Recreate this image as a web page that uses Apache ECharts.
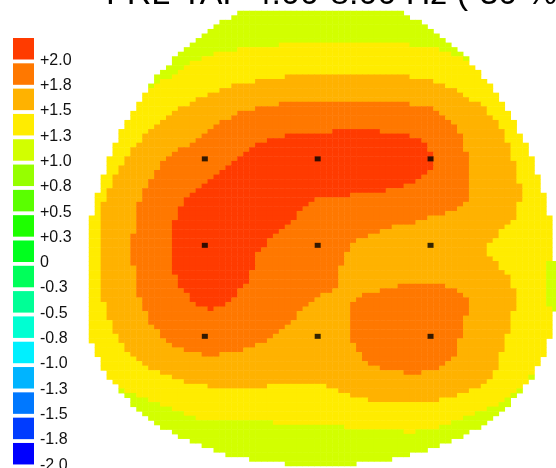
<!DOCTYPE html>
<html>
<head>
<meta charset="utf-8">
<script src="https://cdn.jsdelivr.net/npm/echarts@6/dist/echarts.min.js"></script>
<style>
  html, body { margin: 0; padding: 0; background: #ffffff; }
  #main { width: 556px; height: 468px; }
</style>
</head>
<body>
<div id="main"></div>
<script>
// ---- chart data -------------------------------------------------------
const titleText = 'FRL-TAF 4.00-8.00 Hz (-30 %)';

// colour scale: lower edge of each band (top band first) and its label
const bandLower = [2.0, 1.75, 1.5, 1.25, 1.0, 0.75, 0.5, 0.25, 0,
                   -0.25, -0.5, -0.75, -1.0, -1.25, -1.5, -1.75, -2.0];
const legendLabels = ['+2.0', '+1.8', '+1.5', '+1.3', '+1.0', '+0.8', '+0.5', '+0.3', '0',
                      '-0.3', '-0.5', '-0.8', '-1.0', '-1.3', '-1.5', '-1.8', '-2.0'];
const bandColors = ['#FF3B00', '#FF7800', '#FFB200', '#FFEC00', '#D2FF00', '#96FF00',
                    '#5AFF00', '#1EFF00', '#00FF1E', '#00FF5A', '#00FF96', '#00FFD2',
                    '#00F0FF', '#00B4FF', '#0078FF', '#003CFF', '#0000FF'];

// scalp values on a coarse 9 x 11 lattice (front row first, left column first)
const potential = [
  [0.90, 1.00, 1.10, 1.12, 1.13, 1.12, 1.10, 1.00, 0.90],
  [1.00, 1.15, 1.33, 1.42, 1.48, 1.48, 1.42, 1.25, 1.10],
  [1.00, 1.40, 1.64, 1.82, 1.86, 1.86, 1.80, 1.52, 1.30],
  [1.25, 1.66, 1.89, 2.08, 2.15, 2.18, 2.01, 1.62, 1.38],
  [1.42, 1.81, 2.08, 2.12, 1.98, 1.92, 1.82, 1.68, 1.35],
  [1.45, 1.85, 2.15, 2.00, 1.84, 1.69, 1.62, 1.50, 1.28],
  [1.43, 1.81, 2.05, 1.93, 1.76, 1.75, 1.79, 1.67, 1.28],
  [1.33, 1.68, 1.87, 1.78, 1.65, 1.83, 1.88, 1.60, 1.30],
  [1.15, 1.40, 1.53, 1.53, 1.51, 1.66, 1.68, 1.50, 1.15],
  [0.90, 1.05, 1.21, 1.23, 1.24, 1.27, 1.27, 1.10, 0.90],
  [0.80, 0.90, 1.00, 1.10, 1.12, 1.12, 1.10, 1.00, 0.90]
];

// electrode montage (raster column / row of each sensor line)
const electrodeCols = [19, 38, 57];
const electrodeRows = [32, 51, 71];

// ---- raster layout -------------------------------------------------------
const NX = 80, NY = 102;          // raster size in cells
const CW = 5.94, CH = 4.55;       // cell size in px
const GX = 89, GY = 11;           // raster origin
const LAT_DX = 9.5, LAT_DY = 9.75, LAT_Y0 = 3;   // lattice spacing in cells

// head outline (px)
const HEAD = { cx: 320.5, cy: 290, ax: 236, top: 295, bottom: 175, pBottom: 2.2 };

function insideHead(px, py) {
  const dx = Math.abs(px - HEAD.cx) / HEAD.ax;
  if (py <= HEAD.cy) {
    const dy = (HEAD.cy - py) / HEAD.top;
    return dx * dx + dy * dy <= 1;
  }
  const dy = (py - HEAD.cy) / HEAD.bottom;
  return Math.pow(dx, HEAD.pBottom) + Math.pow(dy, HEAD.pBottom) <= 1;
}

// lattice lookup with linear continuation past the borders
function latCol(r, c) {
  const n = potential[0].length;
  if (c < 0) return 2 * potential[r][0] - potential[r][1];
  if (c >= n) return 2 * potential[r][n - 1] - potential[r][n - 2];
  return potential[r][c];
}
function lat(r, c) {
  const m = potential.length;
  if (r < 0) return 2 * latCol(0, c) - latCol(1, c);
  if (r >= m) return 2 * latCol(m - 1, c) - latCol(m - 2, c);
  return latCol(r, c);
}
function catmull(p0, p1, p2, p3, t) {
  return 0.5 * (2 * p1 + (-p0 + p2) * t + (2 * p0 - 5 * p1 + 4 * p2 - p3) * t * t +
                (-p0 + 3 * p1 - 3 * p2 + p3) * t * t * t);
}
// bicubic resampling of the lattice at a raster cell
function valueAt(col, row) {
  const u = col / LAT_DX, v = (row - LAT_Y0) / LAT_DY;
  const maxU = potential[0].length - 1, maxV = potential.length - 1;
  const iu = Math.max(0, Math.min(maxU - 1, Math.floor(u)));
  const iv = Math.max(0, Math.min(maxV - 1, Math.floor(v)));
  const tu = u - iu, tv = v - iv;
  const rows = [];
  for (let k = -1; k <= 2; k++) {
    rows.push(catmull(lat(iv + k, iu - 1), lat(iv + k, iu), lat(iv + k, iu + 1), lat(iv + k, iu + 2), tu));
  }
  return catmull(rows[0], rows[1], rows[2], rows[3], tv);
}

const xCats = [], yCats = [];
for (let i = 0; i < NX; i++) xCats.push(i);
for (let j = 0; j < NY; j++) yCats.push(j);

const cells = [];
for (let j = 0; j < NY; j++) {
  for (let i = 0; i < NX; i++) {
    const px = GX + (i + 0.5) * CW, py = GY + (j + 0.5) * CH;
    if (!insideHead(px, py)) continue;
    cells.push([i, j, +valueAt(i, j).toFixed(3)]);
  }
}

const sensors = [];
electrodeRows.forEach(r => electrodeCols.forEach(c => sensors.push([c, r])));

// piecewise colour bands
const pieces = bandLower.map((lo, k) => {
  const p = { color: bandColors[k] };
  if (k < bandLower.length - 1) p.gte = lo;
  if (k > 0) p.lt = bandLower[k - 1];
  return p;
});

// colour key drawn at the left edge
const KEY = { x: 13, y: 38, w: 21, h: 21.5, step: 25.31, textX: 40, textDy: 22.3 };
const keyGraphics = [];
bandColors.forEach((c, k) => {
  keyGraphics.push({
    type: 'rect', silent: true,
    shape: { x: KEY.x, y: KEY.y + k * KEY.step, width: KEY.w, height: KEY.h },
    style: { fill: c }
  });
  keyGraphics.push({
    type: 'text', silent: true,
    x: KEY.textX, y: KEY.y + k * KEY.step + KEY.textDy,
    style: { text: legendLabels[k], fill: '#111', font: '16px "Liberation Sans", Arial, sans-serif',
             verticalAlign: 'middle', align: 'left' }
  });
});
keyGraphics.push({
  type: 'text', silent: true, x: 106, y: -5,
  style: { text: titleText, fill: '#000', font: '34px "Liberation Sans", Arial, sans-serif',
           verticalAlign: 'middle', align: 'left' }
});

const chart = echarts.init(document.getElementById('main'), null, { renderer: 'canvas' });
chart.setOption({
  animation: false,
  backgroundColor: '#ffffff',
  grid: { left: GX, top: GY, width: NX * CW, height: NY * CH,
          containLabel: false, outerBoundsMode: 'none' },
  xAxis: { type: 'category', data: xCats, show: false, boundaryGap: true },
  yAxis: { type: 'category', data: yCats, show: false, inverse: true, boundaryGap: true },
  visualMap: { type: 'piecewise', show: false, dimension: 2, seriesIndex: 0, pieces: pieces },
  series: [
    { type: 'heatmap', data: cells, progressive: 0, silent: true, emphasis: { disabled: true } },
    { type: 'scatter', data: sensors, symbol: 'rect', symbolSize: [6, 5], silent: true,
      itemStyle: { color: '#000000' }, z: 5 }
  ],
  graphic: keyGraphics
});
</script>
</body>
</html>
